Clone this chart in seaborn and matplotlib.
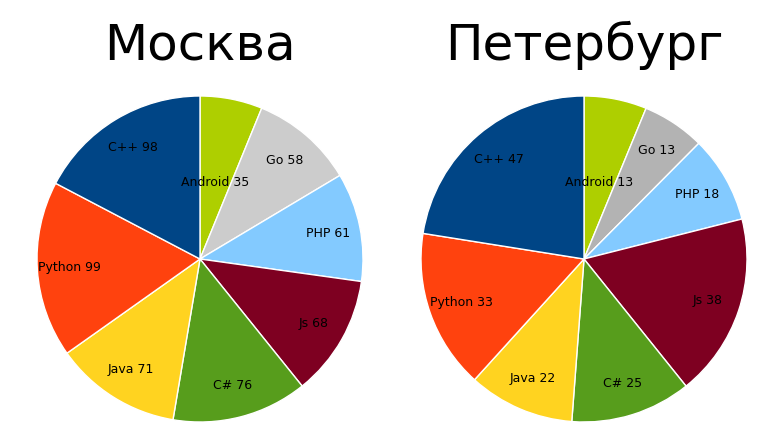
import matplotlib
matplotlib.use("Agg")
import matplotlib.pyplot as plt
import seaborn as sns

sns.set_theme(style="white")
plt.rcParams['font.family'] = ['DejaVu Sans']

labels = ["Android", "Go", "PHP", "Js", "C#", "Java", "Python", "C++"]
moscow = [35, 58, 61, 68, 76, 71, 99, 98]
spb = [13, 13, 18, 38, 25, 22, 33, 47]
titles = ["Москва", "Петербург"]
colors_m = ["#aecf00", "#cccccc", "#83caff", "#7e0021", "#579d1c", "#ffd320", "#ff420e", "#004586"]
colors_s = ["#aecf00", "#b3b3b3", "#83caff", "#7e0021", "#579d1c", "#ffd320", "#ff420e", "#004586"]

fig = plt.figure(figsize=(7.8, 4.4), dpi=100)
centers = [200, 584]
r = 163
for cx, vals, cols, title in zip(centers, [moscow, spb], [colors_m, colors_s], titles):
    ax = fig.add_axes([(cx - r) / 780, (440 - 259 - r) / 440, 2 * r / 780, 2 * r / 440])
    texts = [f"{l} {v}" for l, v in zip(labels, vals)]
    wedges, txts = ax.pie(vals, labels=texts, colors=sns.color_palette(cols), startangle=90,
                          counterclock=False, labeldistance=0.8,
                          textprops=dict(fontsize=9, color="black", ha="center", va="center"))
    # Android label sits closer to the centre in the reference
    x, y = txts[0].get_position()
    txts[0].set_position((x * 0.6, y * 0.6))
    ax.set_aspect("equal")
    ax.set_xlim(-1, 1)
    ax.set_ylim(-1, 1)
    ax.axis("off")
    fig.text(cx / 780, 1 - 45 / 440, title, ha="center", va="center", fontsize=36, color="black")

fig.savefig("out.png", dpi=100)
